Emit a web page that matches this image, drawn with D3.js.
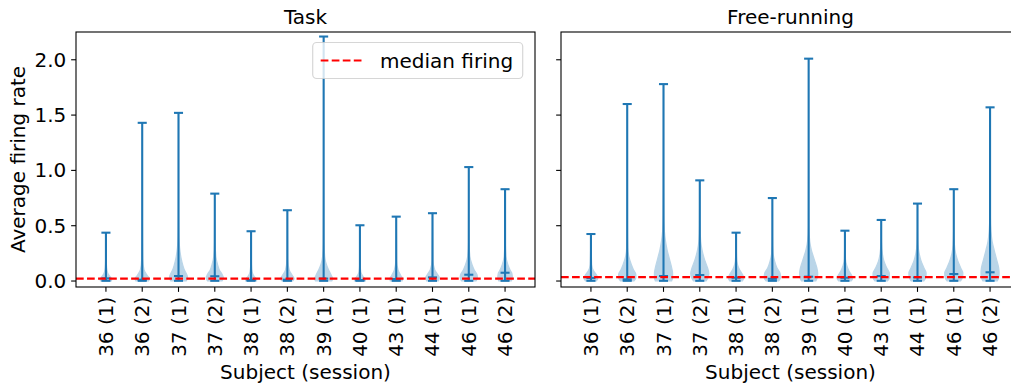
<!DOCTYPE html>
<html><head><meta charset="utf-8">
<script src="https://cdn.jsdelivr.net/npm/d3@7"></script>
<style>
body{margin:0;background:#fff}
svg{display:block}
text{font-family:"DejaVu Sans",sans-serif;fill:#000}
</style>
</head><body>
<svg id="c" width="1011" height="385"></svg>
<script>
// ---------------- data ----------------
const categories = ["36 (1)","36 (2)","37 (1)","37 (2)","38 (1)","38 (2)","39 (1)","40 (1)","43 (1)","44 (1)","46 (1)","46 (2)"];
const yTicks = [0, 0.5, 1.0, 1.5, 2.0];
const panelTitles = ["Task", "Free-running"];
const legendLabel = "median firing";

const taskMax    = [0.437, 1.43, 1.52, 0.79, 0.45, 0.64, 2.21, 0.504, 0.582, 0.613, 1.03, 0.83];
const taskMin    = [0.002, 0.002, 0.002, 0.002, 0.002, 0.002, 0.002, 0.002, 0.002, 0.002, 0.002, 0.002];
const taskMedian = [0.024, 0.012, 0.045, 0.043, 0.010, 0.012, 0.022, 0.009, 0.018, 0.033, 0.057, 0.075];
// violin outline: [value, relative half-width]
const taskProfiles = [
  [[0,0.6],[0.02,0.65],[0.04,0.45],[0.07,0.2],[0.12,0.08],[0.2,0.03],[0.437,0.01]],
  [[0,0.7],[0.02,0.8],[0.05,0.55],[0.1,0.2],[0.2,0.06],[0.5,0.02],[1.43,0.005]],
  [[0,0.85],[0.03,1],[0.06,0.9],[0.1,0.65],[0.15,0.45],[0.2,0.3],[0.3,0.12],[0.4,0.05],[0.6,0.02],[1.0,0.01],[1.52,0.005]],
  [[0,0.8],[0.03,0.95],[0.06,0.8],[0.1,0.5],[0.15,0.3],[0.22,0.12],[0.35,0.04],[0.79,0.01]],
  [[0,0.6],[0.015,0.6],[0.04,0.35],[0.08,0.12],[0.15,0.04],[0.45,0.01]],
  [[0,0.6],[0.02,0.75],[0.05,0.55],[0.1,0.2],[0.2,0.05],[0.64,0.01]],
  [[0,0.9],[0.02,1],[0.05,0.85],[0.1,0.55],[0.15,0.3],[0.22,0.12],[0.35,0.04],[0.8,0.01],[2.21,0.005]],
  [[0,0.6],[0.015,0.6],[0.04,0.35],[0.08,0.1],[0.15,0.03],[0.504,0.01]],
  [[0,0.65],[0.02,0.7],[0.05,0.5],[0.1,0.2],[0.18,0.05],[0.582,0.01]],
  [[0,0.65],[0.03,0.75],[0.06,0.55],[0.1,0.25],[0.18,0.06],[0.613,0.01]],
  [[0,0.8],[0.03,0.95],[0.06,0.9],[0.1,0.6],[0.15,0.35],[0.22,0.12],[0.35,0.03],[1.03,0.005]],
  [[0,0.7],[0.03,0.8],[0.07,0.75],[0.1,0.55],[0.15,0.3],[0.22,0.1],[0.35,0.03],[0.83,0.005]]
];

const freeMax    = [0.425, 1.60, 1.78, 0.91, 0.437, 0.75, 2.01, 0.455, 0.552, 0.70, 0.83, 1.57];
const freeMin    = [0.002, 0.002, 0.002, 0.002, 0.002, 0.002, 0.002, 0.002, 0.002, 0.002, 0.002, 0.002];
const freeMedian = [0.028, 0.015, 0.045, 0.054, 0.030, 0.020, 0.039, 0.030, 0.045, 0.033, 0.063, 0.079];
const freeProfiles = [
  [[0,0.6],[0.02,0.75],[0.05,0.65],[0.09,0.3],[0.15,0.08],[0.425,0.01]],
  [[0,0.75],[0.03,0.95],[0.06,0.95],[0.1,0.7],[0.15,0.45],[0.22,0.18],[0.3,0.06],[0.5,0.02],[1.6,0.005]],
  [[0,0.9],[0.03,1],[0.07,1],[0.12,0.9],[0.2,0.65],[0.28,0.4],[0.36,0.22],[0.45,0.1],[0.6,0.04],[1.0,0.01],[1.78,0.005]],
  [[0,0.7],[0.03,0.9],[0.07,1],[0.12,0.85],[0.2,0.5],[0.28,0.25],[0.36,0.1],[0.5,0.03],[0.91,0.005]],
  [[0,0.7],[0.03,0.85],[0.06,0.7],[0.1,0.4],[0.15,0.15],[0.22,0.05],[0.437,0.01]],
  [[0,0.7],[0.03,0.9],[0.07,0.85],[0.12,0.5],[0.18,0.25],[0.25,0.08],[0.4,0.02],[0.75,0.005]],
  [[0,0.8],[0.03,0.95],[0.07,1],[0.12,0.9],[0.2,0.6],[0.28,0.3],[0.36,0.12],[0.5,0.03],[1.0,0.01],[2.01,0.005]],
  [[0,0.7],[0.02,0.85],[0.05,0.75],[0.09,0.45],[0.14,0.2],[0.2,0.06],[0.455,0.01]],
  [[0,0.7],[0.03,0.9],[0.07,0.9],[0.12,0.6],[0.18,0.3],[0.25,0.12],[0.35,0.03],[0.552,0.005]],
  [[0,0.7],[0.03,0.9],[0.07,0.95],[0.12,0.7],[0.18,0.4],[0.25,0.18],[0.33,0.06],[0.45,0.02],[0.7,0.005]],
  [[0,0.75],[0.03,0.95],[0.07,1],[0.12,0.75],[0.18,0.45],[0.25,0.2],[0.33,0.07],[0.45,0.02],[0.83,0.005]],
  [[0,0.8],[0.03,0.95],[0.07,1],[0.12,0.95],[0.2,0.7],[0.28,0.45],[0.36,0.22],[0.45,0.1],[0.6,0.03],[1.0,0.01],[1.57,0.005]]
];

const medianFiring = [0.022, 0.035];

// ---------------- layout ----------------
const FS = 20;
const C0 = "#1f77b4";
const axTop = 32, axBottom = 287;
const panels = [
  {title: panelTitles[0], left: 76,  right: 535,  max: taskMax, min: taskMin, med: taskMedian, prof: taskProfiles, line: medianFiring[0], labels: true},
  {title: panelTitles[1], left: 561, right: 1020, max: freeMax, min: freeMin, med: freeMedian, prof: freeProfiles, line: medianFiring[1], labels: false}
];

const svg = d3.select("#c");
const y = d3.scaleLinear().domain([-0.054, 2.251]).range([axBottom, axTop]);
const tickLen = 4.86, pad = 4.86;

panels.forEach((p, pi) => {
  const x = d3.scaleLinear().domain([0.175, 12.825]).range([p.left, p.right]);
  const unit = x(1) - x(0);
  const g = svg.append("g");
  const clipId = "clip" + pi;
  svg.append("clipPath").attr("id", clipId).append("rect")
    .attr("x", p.left).attr("y", axTop).attr("width", p.right - p.left).attr("height", axBottom - axTop);
  const plot = g.append("g").attr("clip-path", `url(#${clipId})`);

  // bodies
  categories.forEach((c, i) => {
    const pos = i + 1;
    const hw = 0.25 * unit;
    const a = d3.area()
      .y(d => y(d[0]))
      .x0(d => x(pos) - d[1] * hw)
      .x1(d => x(pos) + d[1] * hw)
      .curve(d3.curveMonotoneY);
    const pts = p.prof[i].map(d => [Math.max(d[0], p.min[i]), d[1]]);
    plot.append("path").attr("d", a(pts))
      .attr("fill", C0).attr("stroke", C0).attr("stroke-width", 1.2)
      .attr("opacity", 0.3);
  });
  // lines
  categories.forEach((c, i) => {
    const pos = i + 1;
    const cw = 0.125 * unit;
    const lw = 2.08;
    plot.append("line").attr("x1", x(pos)).attr("x2", x(pos))
      .attr("y1", y(p.min[i])).attr("y2", y(p.max[i]))
      .attr("stroke", C0).attr("stroke-width", lw);
    [p.max[i], p.min[i], p.med[i]].forEach(v => {
      plot.append("line").attr("x1", x(pos) - cw).attr("x2", x(pos) + cw)
        .attr("y1", y(v)).attr("y2", y(v))
        .attr("stroke", C0).attr("stroke-width", lw);
    });
  });
  // median firing line
  plot.append("line").attr("x1", p.left).attr("x2", p.right)
    .attr("y1", y(p.line)).attr("y2", y(p.line))
    .attr("stroke", "#ff0000").attr("stroke-width", 2.08)
    .attr("stroke-dasharray", "7.7,3.33");

  // spines
  g.append("rect").attr("x", p.left).attr("y", axTop)
    .attr("width", p.right - p.left).attr("height", axBottom - axTop)
    .attr("fill", "none").attr("stroke", "#000").attr("stroke-width", 1.1);

  // y ticks
  yTicks.forEach(t => {
    g.append("line").attr("x1", p.left - tickLen).attr("x2", p.left)
      .attr("y1", y(t)).attr("y2", y(t)).attr("stroke", "#000").attr("stroke-width", 1.1);
    if (p.labels) {
      g.append("text").attr("x", p.left - tickLen - pad).attr("y", y(t))
        .attr("text-anchor", "end").attr("dominant-baseline", "central")
        .attr("font-size", FS).text(d3.format(".1f")(t));
    }
  });
  // x ticks
  categories.forEach((c, i) => {
    const px = x(i + 1);
    g.append("line").attr("x1", px).attr("x2", px)
      .attr("y1", axBottom).attr("y2", axBottom + tickLen).attr("stroke", "#000").attr("stroke-width", 1.1);
    g.append("text")
      .attr("transform", `translate(${px},${axBottom + tickLen + pad}) rotate(-90)`)
      .attr("text-anchor", "end").attr("dominant-baseline", "central")
      .attr("font-size", FS).text(c);
  });
  // title
  g.append("text").attr("x", (p.left + p.right) / 2).attr("y", 24)
    .attr("text-anchor", "middle").attr("font-size", FS).text(p.title);
  // x label
  g.append("text").attr("x", (p.left + p.right) / 2).attr("y", 378.5)
    .attr("text-anchor", "middle").attr("font-size", FS).text("Subject (session)");

  if (p.labels) {
    // legend
    const lx = 312.7, ly = 42.5, lwid = 210, lh = 36;
    g.append("rect").attr("x", lx).attr("y", ly).attr("width", lwid).attr("height", lh)
      .attr("rx", 4).attr("ry", 4)
      .attr("fill", "#fff").attr("fill-opacity", 0.8)
      .attr("stroke", "#cccccc").attr("stroke-opacity", 0.8).attr("stroke-width", 1.2);
    g.append("line").attr("x1", 320.7).attr("x2", 363.3)
      .attr("y1", ly + lh / 2).attr("y2", ly + lh / 2)
      .attr("stroke", "#ff0000").attr("stroke-width", 2.08)
      .attr("stroke-dasharray", "7.7,3.33");
    g.append("text").attr("x", 380).attr("y", ly + lh / 2)
      .attr("dominant-baseline", "central").attr("font-size", FS).text(legendLabel);
  }
});

// y label
svg.append("text").attr("transform", `translate(25,${(axTop + axBottom) / 2}) rotate(-90)`)
  .attr("text-anchor", "middle").attr("font-size", FS).text("Average firing rate");
</script>
</body></html>
